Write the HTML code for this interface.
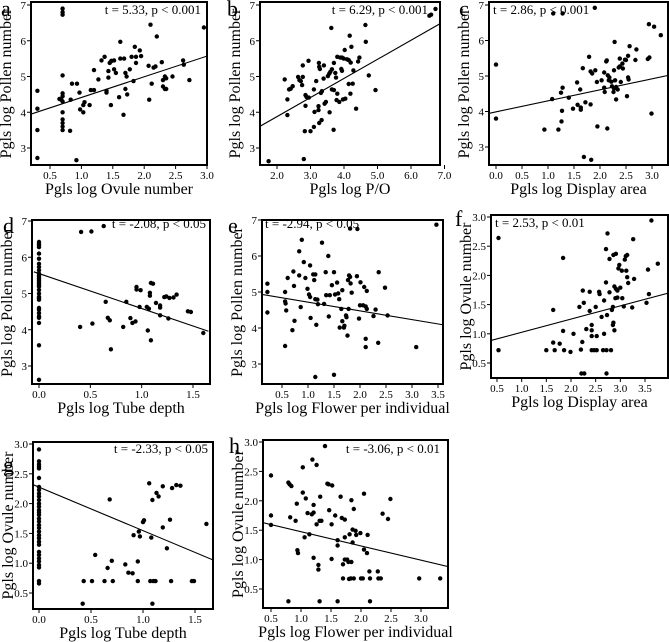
<!DOCTYPE html>
<html><head><meta charset="utf-8"><style>
html,body{margin:0;padding:0;background:#fff;}
svg{display:block;}
text{font-family:"Liberation Serif",serif;fill:#000;}
</style></head><body>
<svg id="fig" width="669" height="642" viewBox="0 0 669 642" xmlns="http://www.w3.org/2000/svg"></svg>
<script>
// ---------- data ----------
const aX=[0.3,0.3,0.3,0.3,0.7,0.7,0.7,0.7,0.7,0.7,0.68,0.7,0.65,0.7,0.7,0.7,0.7,0.7,0.82,0.83,0.85,0.93,0.92,0.97,0.98,1.03,1.05,1.03,1.13,1.15,1.2,1.2,1.27,1.32,1.37,1.4,1.4,1.43,1.43,1.45,1.47,1.48,1.47,1.52,1.52,1.55,1.6,1.62,1.62,1.68,1.67,1.7,1.7,1.72,1.73,1.77,1.8,1.83,1.85,1.87,1.87,1.93,1.95,2.07,2.08,2.1,2.12,2.15,2.18,2.2,2.28,2.3,2.3,2.33,2.33,2.35,2.35,2.45,2.62,2.63,2.72,2.95];
const aY=[4.6,4.1,3.5,2.72,6.9,6.8,6.73,5.03,4.53,4.45,4.35,4.3,4.37,4.0,3.8,3.7,3.6,3.5,3.48,4.35,4.8,4.8,2.66,4.55,4.08,4.0,4.28,4.2,4.2,4.62,4.62,5.18,4.92,5.45,5.55,4.55,4.6,5.15,4.97,5.38,5.42,5.44,4.2,5.45,5.2,5.1,4.42,5.97,5.5,5.5,3.93,4.65,5.1,5.0,4.5,5.2,5.55,4.87,5.83,5.55,5.38,5.73,5.57,5.3,4.35,6.45,4.8,5.25,5.28,6.12,5.4,4.9,4.72,5.0,4.65,4.95,4.65,5.0,5.45,5.33,4.9,6.37];
const bX=[1.75,2.8,2.23,2.31,2.31,2.36,2.41,2.47,2.63,2.67,2.71,2.77,2.77,2.75,2.85,2.88,2.95,2.85,2.83,3.0,2.94,3.1,3.17,3.12,3.24,3.24,3.25,3.26,3.28,3.31,3.34,3.26,3.33,3.1,3.39,3.4,3.42,3.46,3.52,3.56,3.59,3.62,3.64,3.57,3.64,3.7,3.69,3.7,3.74,3.76,3.8,3.8,3.78,3.86,3.89,3.92,3.94,3.94,3.97,3.99,4.02,4.04,4.09,4.14,4.14,4.17,4.2,4.22,4.26,4.28,4.19,4.36,4.42,4.46,4.64,4.65,4.74,4.94,6.55,6.6,6.73];
const bY=[2.63,2.69,4.92,4.36,3.92,4.64,4.66,4.73,4.99,4.9,4.87,4.99,5.31,4.76,4.48,4.43,4.41,4.18,3.47,3.47,5.44,4.64,4.87,4.01,4.17,4.06,5.38,5.27,5.21,4.54,4.59,3.7,3.78,3.59,4.94,5.31,4.24,4.29,5.01,5.08,5.13,6.36,5.2,4.0,4.64,4.62,3.51,5.38,5.1,4.97,4.52,5.55,4.34,4.29,5.53,5.21,5.16,5.53,4.36,5.5,5.74,4.38,5.48,5.46,4.79,6.14,5.39,5.83,4.8,5.17,4.52,4.1,5.42,5.53,6.44,5.97,5.03,4.62,6.7,6.73,6.89];
const cX=[0,0,0.93,1.1,1.28,1.28,1.25,1.27,1.26,1.08,1.2,1.4,1.48,1.56,1.57,1.62,1.63,1.63,1.67,1.69,1.72,1.79,1.82,1.82,1.85,1.9,1.83,1.91,1.94,1.95,2.03,2.08,2.08,2.09,2.12,2.13,2.14,2.15,2.17,2.18,2.22,2.23,2.26,2.27,2.27,2.28,2.29,2.31,2.31,2.34,2.36,2.38,2.38,2.4,2.43,2.44,2.48,2.5,2.52,2.54,2.54,2.57,2.55,2.68,2.7,2.92,2.95,2.94,3.04,3.17,2.99];
const cY=[5.32,3.8,3.49,6.76,6.76,4.67,4.53,4.02,3.72,4.35,3.49,4.39,4.08,4.82,4.19,4.62,4.11,4.05,5.22,2.72,4.26,5.54,5.13,4.2,5.07,6.92,2.64,5.16,4.83,3.58,4.88,4.67,5.1,4.55,5.41,5.44,3.52,5.02,4.88,4.96,4.84,4.71,4.55,4.65,5.16,5.96,4.88,4.69,4.34,4.62,5.24,5.49,5.27,4.83,5.35,5.21,5.46,5.45,4.43,4.96,5.57,5.84,4.9,5.45,5.75,5.48,5.52,6.46,6.39,6.15,3.94];
const dX=[0,0,0,0,0,0,0,0,0,0,0,0,0,0,0,0,0,0,0,0,0,0,0,0,0,0,0,0,0,0,0,0.4,0.41,0.51,0.63,0.52,0.65,0.67,0.69,0.7,0.82,0.85,0.89,0.91,0.94,0.95,0.95,0.99,0.98,1.05,1.07,1.06,1.08,1.08,1.09,1.09,1.11,1.14,1.18,1.18,1.18,1.22,1.24,1.26,1.27,1.31,1.34,1.45,1.48,1.6];
const dY=[6.42,6.37,6.33,6.28,6.1,5.96,5.82,5.73,5.64,5.55,5.5,5.46,5.41,5.37,5.32,5.28,5.23,5.19,5.1,5.0,4.91,4.87,4.83,4.6,4.55,4.46,4.37,4.33,4.19,3.57,2.62,4.08,6.7,6.71,6.86,4.17,4.77,4.33,4.26,3.46,4.08,4.77,4.32,4.19,4.23,5.18,5.11,5.09,4.63,4.63,4.58,3.98,5.02,4.94,5.29,3.71,5.27,4.74,4.67,4.61,4.4,4.9,4.92,4.31,4.88,4.89,4.97,4.51,4.49,3.91];
const eX=[0.22,0.22,0.22,0.56,0.56,0.57,0.58,0.56,0.61,0.7,0.72,0.73,0.74,0.83,0.83,0.86,0.88,0.92,0.95,0.99,1.02,1.04,1.04,1.05,1.1,1.12,1.14,1.14,1.18,1.14,1.16,1.19,1.27,1.31,1.34,1.35,1.39,1.4,1.42,1.46,1.5,1.5,1.52,1.56,1.58,1.6,1.61,1.64,1.66,1.66,1.69,1.7,1.73,1.74,1.76,1.77,1.78,1.79,1.81,1.81,1.82,1.84,1.95,1.94,1.98,2.0,2.01,2.06,2.08,2.11,2.13,2.13,2.11,2.11,2.26,2.3,2.35,2.36,2.48,2.53,3.08,3.47];
const eY=[5.23,5.0,4.43,5.0,4.74,4.68,4.49,3.5,5.39,3.94,5.57,5.17,4.2,6.13,5.46,4.58,6.45,5.83,5.39,5.09,4.93,5.74,4.86,4.28,5.49,5.33,5.49,4.8,4.79,2.64,4.09,4.66,6.37,4.67,5.55,4.91,6.0,4.32,4.91,5.19,5.55,2.7,4.93,5.26,4.96,4.8,4.01,4.53,5.05,4.19,4.01,4.06,4.35,4.3,3.79,5.33,4.53,5.46,5.42,6.76,5.24,4.98,6.75,5.44,4.26,4.63,5.27,4.63,5.14,4.6,5.03,4.53,3.7,3.47,4.33,4.51,3.59,5.55,5.12,4.35,3.47,6.87];
const fX=[0.53,0.53,1.64,1.84,1.84,1.5,1.64,1.67,1.77,1.86,1.99,2.05,2.17,2.2,2.23,2.24,2.26,2.21,2.27,2.31,2.38,2.38,2.42,2.42,2.42,2.42,2.47,2.52,2.52,2.5,2.57,2.58,2.62,2.65,2.67,2.67,2.71,2.71,2.72,2.72,2.73,2.74,2.78,2.78,2.81,2.83,2.85,2.85,2.86,2.88,2.86,2.88,2.91,2.9,2.91,2.94,2.94,2.96,2.98,3.0,3.03,3.04,3.07,3.09,3.11,3.12,3.14,3.16,3.14,3.24,3.26,3.28,3.53,3.56,3.58,3.63,3.76];
const fY=[2.64,0.72,1.41,2.3,1.05,0.72,0.85,0.72,0.83,0.72,0.69,1.0,1.46,0.73,0.86,1.74,1.53,0.32,0.32,1.08,1.72,1.39,1.15,1.06,0.96,0.72,0.72,0.72,0.96,1.46,1.72,1.68,1.29,0.72,1.0,1.57,1.88,2.45,0.72,0.32,1.32,2.72,1.71,2.28,0.72,1.41,1.46,1.15,1.19,1.06,2.35,1.81,2.37,1.61,1.77,1.74,1.62,2.12,2.18,1.79,2.08,1.61,1.47,2.27,2.33,2.08,1.97,1.87,2.35,1.45,2.62,1.94,1.53,2.1,1.68,2.94,2.2];
const gX=[0,0,0,0,0,0,0,0,0,0,0,0,0,0,0,0,0,0,0,0,0,0,0,0,0,0,0,0,0,0,0,0,0,0.42,0.43,0.51,0.54,0.63,0.66,0.68,0.7,0.71,0.83,0.86,0.9,0.91,0.95,0.95,0.96,0.97,1.0,1.01,1.06,1.07,1.08,1.09,1.09,1.1,1.12,1.13,1.15,1.19,1.19,1.23,1.26,1.27,1.28,1.32,1.36,1.47,1.49,1.61];
const gY=[2.91,2.71,2.66,2.62,2.59,2.43,2.28,2.23,2.17,2.12,2.06,2.0,1.95,1.89,1.85,1.81,1.75,1.7,1.64,1.59,1.53,1.47,1.42,1.36,1.31,1.19,1.14,1.08,1.03,0.97,0.93,0.7,0.66,0.32,0.7,0.7,1.14,0.7,0.92,2.07,1.04,0.7,0.98,0.84,0.83,1.47,1.03,0.7,1.53,1.45,1.69,1.72,2.34,0.7,1.43,0.32,2.06,0.7,0.7,2.18,2.12,2.29,1.6,1.25,1.73,0.7,2.26,2.31,2.3,0.7,0.7,1.66];
const hX=[0.5,0.5,0.5,0.79,0.79,0.81,0.84,0.82,0.91,0.93,0.94,0.95,1.03,1.03,1.06,1.08,1.11,1.14,1.18,1.19,1.21,1.21,1.21,1.26,1.26,1.29,1.29,1.31,1.32,1.31,1.34,1.4,1.44,1.46,1.47,1.51,1.52,1.51,1.57,1.61,1.61,1.61,1.66,1.68,1.7,1.7,1.73,1.73,1.73,1.77,1.79,1.8,1.81,1.83,1.84,1.84,1.86,1.86,1.88,1.88,1.91,1.92,1.99,2.0,2.03,2.05,2.05,2.1,2.11,2.14,2.15,2.15,2.28,2.29,2.33,2.36,2.45,2.49,2.97,3.32];
const hY=[2.43,1.75,1.59,0.29,2.31,2.28,2.25,1.72,1.66,1.95,1.16,1.11,2.57,2.14,1.38,2.04,1.79,1.43,1.77,2.7,1.93,1.8,1.03,1.6,2.61,0.91,0.83,0.29,2.07,1.66,1.66,2.93,2.29,2.28,1.84,1.6,2.26,1.01,1.75,1.33,1.24,0.29,2.07,1.71,0.68,0.92,1.68,1.38,1.0,1.0,0.96,0.67,1.43,0.68,2.01,0.96,1.51,1.29,1.86,0.68,1.49,1.42,1.45,0.68,0.68,2.12,1.17,1.11,1.42,0.8,0.68,0.29,0.8,0.68,0.68,1.78,1.69,2.03,0.68,0.68];
// regression lines: [intercept, slope, xStart, xEnd]
const fitA=[3.834,0.579,0.2,3.0];
const fitB=[2.81,0.534,1.49,6.87];
const fitC=[3.99,0.31,-0.13,3.31];
const fitD=[5.55,-0.964,-0.05,1.65];
const fitE=[4.96,-0.242,0.11,3.58];
const fitF=[0.80,0.226,0.39,3.97];
const fitG=[2.276,-0.73,-0.06,1.68];
const fitH=[1.717,-0.242,0.36,3.455];
// tick labels
const ticksPollen=[3,4,5,6,7];
const ticksOvule=[0.5,1.0,1.5,2.0,2.5,3.0];
const ticksAx=[0.5,1.0,1.5,2.0,2.5,3.0];
const ticksBx=[2.0,3.0,4.0,5.0,6.0,7.0];
const ticksCx=[0.0,0.5,1.0,1.5,2.0,2.5,3.0];
const ticksTube=[0.0,0.5,1.0,1.5];
const ticksFlowerE=[0.5,1.0,1.5,2.0,2.5,3.0,3.5];
const ticksDispF=[0.5,1.0,1.5,2.0,2.5,3.0,3.5];
const ticksFlowerH=[0.5,1.0,1.5,2.0,2.5,3.0];

// ---------- layout ----------
const NS='http://www.w3.org/2000/svg';
const svg=document.getElementById('fig');
function mk(tag,attrs,parent){const e=document.createElementNS(NS,tag);for(const k in attrs)e.setAttribute(k,attrs[k]);(parent||svg).appendChild(e);return e;}
function lin(v1,p1,v2,p2){return v=>p1+(v-v1)*(p2-p1)/(v2-v1);}

const panels=[
 {id:'a',box:[31,2,207,165],sx:lin(0.5,50,3.0,207),sy:lin(7,5,3,148),xs:aX,ys:aY,fit:fitA,xt:ticksAx,yt:ticksPollen,ydec:0,xl:'Pgls log Ovule number',yl:'Pgls log Pollen number',letter:[1,16],stat:'t = 5.33, p < 0.001',sp:[201,14,'end']},
 {id:'b',box:[260,2,440,165],sx:lin(2,277,7,444.5),sy:lin(7,5,3,148),xs:bX,ys:bY,fit:fitB,xt:ticksBx,yt:ticksPollen,ydec:0,xl:'Pgls log P/O',yl:'Pgls log Pollen number',letter:[227,16],stat:'t = 6.29, p < 0.001',sp:[428,14,'end']},
 {id:'c',box:[489,2,668,165],sx:lin(0,496,3,652),sy:lin(7,5,3,147),xs:cX,ys:cY,fit:fitC,xt:ticksCx,yt:ticksPollen,ydec:0,xl:'Pgls log Display area',yl:'Pgls log Pollen number',letter:[459,16],stat:'t = 2.86, p < 0.001',sp:[493,14,'start']},
 {id:'d',box:[32,220,210,384],sx:lin(0,39,1.5,193),sy:lin(7,221,3,366),xs:dX,ys:dY,fit:fitD,xt:ticksTube,yt:ticksPollen,ydec:0,xl:'Pgls log Tube depth',yl:'Pgls log Pollen number',letter:[3,233],stat:'t = -2.08, p < 0.05',sp:[206,228,'end']},
 {id:'e',box:[262,220,443,384],sx:lin(0.5,282,3.5,438),sy:lin(7,220,3,364),xs:eX,ys:eY,fit:fitE,xt:ticksFlowerE,yt:ticksPollen,ydec:0,xl:'Pgls log Flower per individual',yl:'Pgls log Pollen number',letter:[228,233],stat:'t = -2.94, p < 0.05',sp:[265,228,'start']},
 {id:'f',box:[491,215,668,378],sx:lin(0.5,497,3.5,645),sy:lin(3,217,0.5,363),xs:fX,ys:fY,fit:fitF,xt:ticksDispF,yt:ticksOvule,ydec:1,xl:'Pgls log Display area',yl:'Pgls log Ovule number',letter:[455,226],stat:'t = 2.53, p < 0.01',sp:[495,227,'start']},
 {id:'g',box:[33,442,213,609],sx:lin(0,39,1.5,195),sy:lin(3,444,0.5,593),xs:gX,ys:gY,fit:fitG,xt:ticksTube,yt:ticksOvule,ydec:1,xl:'Pgls log Tube depth',yl:'Pgls log Ovule number',letter:[3,472],stat:'t = -2.33, p < 0.05',sp:[208,453,'end']},
 {id:'h',box:[263,440,448,608],sx:lin(0.5,271,3.0,421),sy:lin(3,442,0.5,589),xs:hX,ys:hY,fit:fitH,xt:ticksFlowerH,yt:ticksOvule,ydec:1,xl:'Pgls log Flower per individual',yl:'Pgls log Ovule number',letter:[229,453],stat:'t = -3.06, p < 0.01',sp:[440,453,'end']}
];

panels.forEach(p=>{
 const [l,t,r,b]=p.box;
 const g=mk('g',{});
 
 
 const cp=mk('clipPath',{id:'clip-'+p.id},g);
 mk('rect',{x:l,y:t,width:r-l,height:b-t},cp);
 const pts=mk('g',{},g);
 
 
 for(let i=0;i<p.xs.length;i++){
  const c=mk('circle',{cx:p.sx(p.xs[i]).toFixed(1),cy:p.sy(p.ys[i]).toFixed(1),r:2.2,fill:'#000'},pts);
  
  
 }
 const [ic,sl,x1,x2]=p.fit;
 const ln=mk('line',{x1:p.sx(x1),y1:p.sy(ic+sl*x1),x2:p.sx(x2),y2:p.sy(ic+sl*x2),stroke:'#000','stroke-width':1.1,'clip-path':'url(#clip-'+p.id+')'},g);
 
 
 const fr=mk('rect',{x:l,y:t,width:r-l,height:b-t,fill:'none',stroke:'#000','stroke-width':2},g);
 
 
 p.xt.forEach(v=>{
  const x=p.sx(v);
  mk('line',{x1:x,y1:b,x2:x,y2:b+4,stroke:'#000','stroke-width':1},g);
  const tx=mk('text',{x:x,y:b+14,'font-size':11,'text-anchor':'middle'},g);
  tx.textContent=v.toFixed(1);
  
  
 });
 p.yt.forEach(v=>{
  const y=p.sy(v);
  mk('line',{x1:l-4,y1:y,x2:l,y2:y,stroke:'#000','stroke-width':1},g);
  const tx=mk('text',{x:l-5,y:y+4,'font-size':11,'text-anchor':'end'},g);
  tx.textContent=v.toFixed(p.ydec);
  
  
 });
 const xt=mk('text',{x:(l+r)/2,y:b+29,'font-size':16,'text-anchor':'middle'},g);
 xt.textContent=p.xl;
 
 
 const cy=(t+b)/2, yx=l-20;
 const yt=mk('text',{x:yx,y:cy,'font-size':16,'text-anchor':'middle',transform:'rotate(-90 '+yx+' '+cy+')'},g);
 yt.textContent=p.yl;
 
 
 const lt=mk('text',{x:p.letter[0],y:p.letter[1],'font-size':22},g);
 lt.textContent=p.id;
 
 
 const st=mk('text',{x:p.sp[0],y:p.sp[1],'font-size':13,'text-anchor':p.sp[2]},g);
 st.textContent=p.stat;
 
 
});
</script>
</body></html>
